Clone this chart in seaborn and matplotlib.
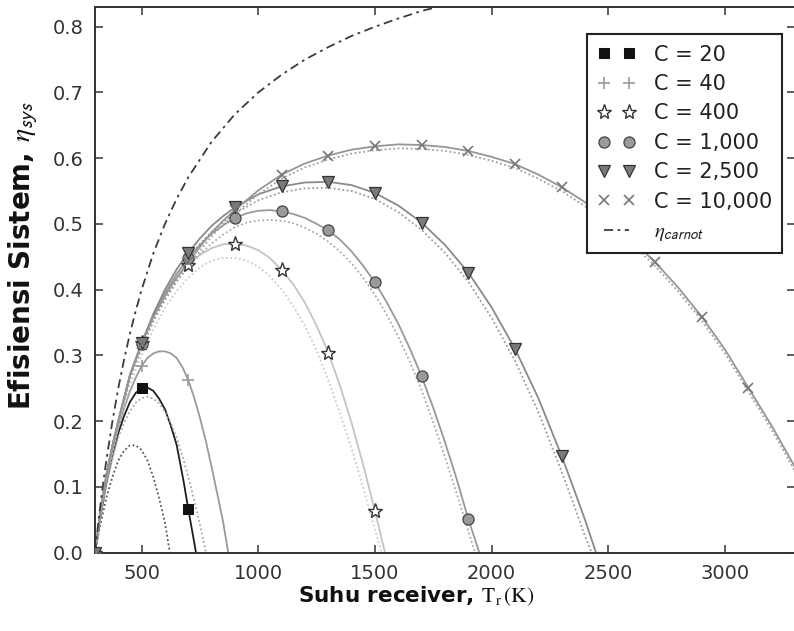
import numpy as np
import matplotlib
matplotlib.use("Agg")
import matplotlib.pyplot as plt
import seaborn as sns

# --- data (T in K, efficiency) ---
t20 = [300, 325, 350, 375, 400, 425, 450, 475, 500, 525, 550, 575, 600, 625, 650, 680, 700, 720, 733]
e20 = [0, 0.058, 0.108, 0.148, 0.182, 0.208, 0.229, 0.243, 0.250, 0.251, 0.246, 0.234, 0.218, 0.193, 0.164,
       0.108, 0.066, 0.026, 0]
t20_dot = [300, 325, 350, 375, 400, 425, 450, 475, 500, 525, 550, 575, 600, 621]
e20_dot = [0, 0.045, 0.085, 0.115, 0.140, 0.155, 0.163, 0.163, 0.156, 0.140, 0.115, 0.083, 0.045, 0]

t40 = [300, 325, 350, 375, 400, 425, 450, 475, 500, 525, 550, 575, 600, 625, 650, 675, 700, 725, 750, 775,
       800, 825, 850, 871]
e40 = [0, 0.060, 0.110, 0.153, 0.190, 0.220, 0.245, 0.266, 0.284, 0.296, 0.303, 0.306, 0.306, 0.303, 0.296,
       0.282, 0.262, 0.236, 0.205, 0.170, 0.130, 0.088, 0.045, 0]
t40_dot = [300, 325, 350, 375, 400, 425, 450, 475, 500, 525, 550, 575, 600, 625, 650, 675, 700, 725, 750, 776]
e40_dot = [0, 0.055, 0.105, 0.143, 0.175, 0.198, 0.215, 0.228, 0.235, 0.237, 0.234, 0.227, 0.214, 0.197, 0.175,
           0.147, 0.115, 0.080, 0.042, 0]

t400 = [300, 325, 350, 375, 400, 450, 500, 550, 600, 650, 700, 750, 800, 850, 900, 950, 1000, 1050, 1100, 1150,
        1200, 1250, 1300, 1350, 1400, 1450, 1500, 1543]
e400 = [0, 0.065, 0.120, 0.163, 0.200, 0.270, 0.319, 0.360, 0.393, 0.418, 0.438, 0.453, 0.463, 0.469, 0.470,
        0.467, 0.460, 0.448, 0.430, 0.408, 0.380, 0.345, 0.304, 0.254, 0.197, 0.133, 0.063, 0]
t400_dot = [300, 325, 350, 375, 400, 450, 500, 550, 600, 650, 700, 750, 800, 850, 900, 950, 1000, 1050, 1100,
            1150, 1200, 1250, 1300, 1350, 1400, 1450, 1500, 1529]
e400_dot = [0, 0.062, 0.115, 0.156, 0.190, 0.255, 0.300, 0.340, 0.372, 0.398, 0.418, 0.434, 0.444, 0.448, 0.448,
            0.444, 0.435, 0.420, 0.400, 0.375, 0.345, 0.307, 0.262, 0.212, 0.158, 0.098, 0.035, 0]

t1000 = [300, 325, 350, 375, 400, 450, 500, 550, 600, 650, 700, 750, 800, 850, 900, 950, 1000, 1050, 1100, 1150,
         1200, 1250, 1300, 1350, 1400, 1450, 1500, 1550, 1600, 1650, 1700, 1750, 1800, 1850, 1900, 1947]
e1000 = [0, 0.065, 0.120, 0.163, 0.200, 0.270, 0.317, 0.360, 0.395, 0.424, 0.448, 0.468, 0.485, 0.498, 0.509,
         0.516, 0.520, 0.521, 0.519, 0.515, 0.509, 0.500, 0.490, 0.476, 0.458, 0.436, 0.411, 0.381, 0.348, 0.310,
         0.268, 0.220, 0.168, 0.112, 0.051, 0]
t1000_dot = t1000[:-1] + [1929]
e1000_dot = [0, 0.063, 0.118, 0.160, 0.197, 0.265, 0.310, 0.352, 0.385, 0.413, 0.435, 0.454, 0.470, 0.484, 0.495,
             0.502, 0.505, 0.506, 0.505, 0.501, 0.494, 0.485, 0.473, 0.458, 0.440, 0.418, 0.392, 0.362, 0.328,
             0.290, 0.247, 0.198, 0.145, 0.090, 0.033, 0]

t2500 = [300, 325, 350, 375, 400, 450, 500, 550, 600, 650, 700, 750, 800, 850, 900, 1000, 1100, 1200, 1300, 1400,
         1500, 1600, 1700, 1800, 1900, 2000, 2100, 2200, 2300, 2350, 2400, 2447]
e2500 = [0, 0.065, 0.120, 0.163, 0.200, 0.270, 0.319, 0.363, 0.400, 0.431, 0.456, 0.478, 0.497, 0.512, 0.525,
         0.545, 0.557, 0.563, 0.564, 0.559, 0.547, 0.528, 0.502, 0.468, 0.426, 0.373, 0.310, 0.235, 0.147, 0.099,
         0.050, 0]
t2500_dot = t2500[:-1] + [2428]
e2500_dot = [0, 0.063, 0.118, 0.160, 0.197, 0.266, 0.314, 0.356, 0.393, 0.423, 0.448, 0.470, 0.488, 0.503, 0.516,
             0.536, 0.548, 0.554, 0.555, 0.550, 0.538, 0.518, 0.491, 0.456, 0.412, 0.357, 0.292, 0.214, 0.123,
             0.075, 0.025, 0]

t10000 = [300, 325, 350, 375, 400, 450, 500, 550, 600, 650, 700, 750, 800, 850, 900, 1000, 1100, 1200, 1300, 1400,
          1500, 1600, 1700, 1800, 1900, 2000, 2100, 2200, 2300, 2400, 2500, 2600, 2700, 2800, 2900, 3000, 3100,
          3200, 3300]
e10000 = [0, 0.065, 0.120, 0.163, 0.200, 0.270, 0.318, 0.358, 0.390, 0.418, 0.442, 0.465, 0.487, 0.505, 0.521,
          0.551, 0.575, 0.592, 0.604, 0.613, 0.618, 0.621, 0.620, 0.617, 0.611, 0.602, 0.591, 0.575, 0.556, 0.533,
          0.506, 0.476, 0.442, 0.403, 0.359, 0.309, 0.251, 0.193, 0.130]
t10000_dot = t10000
e10000_dot = [0, 0.063, 0.117, 0.159, 0.196, 0.265, 0.313, 0.352, 0.384, 0.412, 0.436, 0.459, 0.481, 0.499,
              0.515, 0.545, 0.569, 0.586, 0.598, 0.607, 0.612, 0.615, 0.614, 0.611, 0.605, 0.596, 0.585, 0.569,
              0.550, 0.527, 0.500, 0.470, 0.436, 0.397, 0.353, 0.303, 0.245, 0.187, 0.124]

t_carnot = [300, 310, 320, 330, 340, 350, 375, 400, 425, 450, 475, 500, 550, 600, 650, 700, 800, 900, 1000,
            1100, 1200, 1300, 1400, 1500, 1600, 1700, 1800]
e_carnot = [0, 0.032, 0.0625, 0.091, 0.118, 0.143, 0.200, 0.250, 0.294, 0.333, 0.368, 0.400, 0.455, 0.500,
            0.538, 0.571, 0.625, 0.667, 0.700, 0.727, 0.750, 0.769, 0.786, 0.800, 0.8125, 0.824, 0.833]

# marker points (every 200 K)
m20_t = [300, 500, 700]
m20_e = [0, 0.250, 0.066]
m40_t = [300, 500, 700]
m40_e = [0, 0.284, 0.262]
m400_t = [300, 500, 700, 900, 1100, 1300, 1500]
m400_e = [0, 0.319, 0.438, 0.470, 0.430, 0.304, 0.063]
m1000_t = [300, 500, 700, 900, 1100, 1300, 1500, 1700, 1900]
m1000_e = [0, 0.317, 0.448, 0.509, 0.519, 0.490, 0.411, 0.268, 0.051]
m2500_t = [300, 500, 700, 900, 1100, 1300, 1500, 1700, 1900, 2100, 2300]
m2500_e = [0, 0.319, 0.456, 0.525, 0.557, 0.564, 0.547, 0.502, 0.426, 0.310, 0.147]
m10000_t = [300, 500, 700, 900, 1100, 1300, 1500, 1700, 1900, 2100, 2300, 2500, 2700, 2900, 3100]
m10000_e = [0, 0.318, 0.442, 0.521, 0.575, 0.604, 0.618, 0.620, 0.611, 0.591, 0.556, 0.506, 0.442, 0.359, 0.251]

labels = ["C = 20", "C = 40", "C = 400", "C = 1,000", "C = 2,500", "C = 10,000"]
x_ticks = [500, 1000, 1500, 2000, 2500, 3000]
y_ticks = [0.0, 0.1, 0.2, 0.3, 0.4, 0.5, 0.6, 0.7, 0.8]

sns.set_style("ticks")
plt.rcParams["font.family"] = ["DejaVu Sans"]
plt.rcParams["mathtext.fontset"] = "stix"

fig = plt.figure(figsize=(7.94, 6.31), dpi=100)
ax = fig.add_axes([0.1196, 0.1244, 0.8816, 0.8645])

dot = (0, (1, 1.4))
series = [
    (t20, e20, t20_dot, e20_dot, "#1e1e1e", "#555555"),
    (t40, e40, t40_dot, e40_dot, "#9a9a9a", "#a8a8a8"),
    (t400, e400, t400_dot, e400_dot, "#c4c4c4", "#cccccc"),
    (t1000, e1000, t1000_dot, e1000_dot, "#999999", "#aaaaaa"),
    (t2500, e2500, t2500_dot, e2500_dot, "#8a8a8a", "#9c9c9c"),
    (t10000, e10000, t10000_dot, e10000_dot, "#969696", "#a0a0a0"),
]
for t, e, td, ed, c_line, c_dot in series:
    sns.lineplot(x=td, y=ed, ax=ax, color=c_dot, linewidth=1.3, linestyle=dot, sort=False, estimator=None)
    sns.lineplot(x=t, y=e, ax=ax, color=c_line, linewidth=1.3, sort=False, estimator=None)

marker_specs = [
    (m20_t, m20_e, dict(marker="s", markersize=7, mfc="#111111", mec="#111111")),
    (m40_t, m40_e, dict(marker="+", markersize=9, mfc="none", mec="#9a9a9a", mew=1.2)),
    (m400_t, m400_e, dict(marker="*", markersize=11, mfc="white", mec="#333333", mew=1.0)),
    (m1000_t, m1000_e, dict(marker="o", markersize=8, mfc="#9a9a9a", mec="#444444", mew=0.9)),
    (m2500_t, m2500_e, dict(marker="v", markersize=9, mfc="#7a7a7a", mec="#333333", mew=0.9)),
    (m10000_t, m10000_e, dict(marker="x", markersize=6.5, mfc="none", mec="#777777", mew=1.2)),
]
for (mt, me, kw), lab in zip(marker_specs, labels):
    sns.lineplot(x=mt, y=me, ax=ax, linestyle="", label=lab, sort=False, estimator=None, zorder=4, **kw)

sns.lineplot(x=t_carnot, y=e_carnot, ax=ax, color="#3c3c3c", linewidth=1.3,
             linestyle=(0, (5, 2.5, 1.5, 2.5)), label=r"$\eta_{\mathsf{carnot}}$", sort=False, estimator=None)

ax.set_xlim(300, 3300)
ax.set_ylim(0, 0.83)
ax.set_xticks(x_ticks)
ax.set_yticks(y_ticks)
ax.set_yticklabels([f"{v:.1f}" for v in y_ticks])
ax.tick_params(direction="in", length=6, width=1.1, top=True, right=True,
               labelsize=14, labelcolor="#333333", color="#333333", pad=8)
for s in ax.spines.values():
    s.set_linewidth(1.4)
    s.set_color("#333333")

ax.set_xlabel(r"Suhu receiver, $\mathrm{T_r\,(K)}$", fontsize=15.5, fontweight="bold", color="#111111")
ax.xaxis.set_label_coords(0.459, -0.058, transform=ax.transAxes)
ax.xaxis.label.set_va("top")
ax.set_ylabel(r"Efisiensi Sistem, $\eta_{\mathsf{sys}}$", fontsize=20, fontweight="bold", color="#111111")
ax.yaxis.set_label_coords(-0.079, 0.545, transform=ax.transAxes)

leg = ax.legend(loc="upper right", bbox_to_anchor=(0.982, 0.95), borderaxespad=0, numpoints=2,
                fontsize=15, frameon=True, fancybox=False, handlelength=1.8, handletextpad=0.9,
                labelspacing=0.45, borderpad=0.5)
leg.get_frame().set_edgecolor("#222222")
leg.get_frame().set_linewidth(1.5)
leg.get_frame().set_alpha(1)
for txt in leg.get_texts():
    txt.set_color("#222222")
leg.set_zorder(10)

fig.savefig("out.png", dpi=100)
